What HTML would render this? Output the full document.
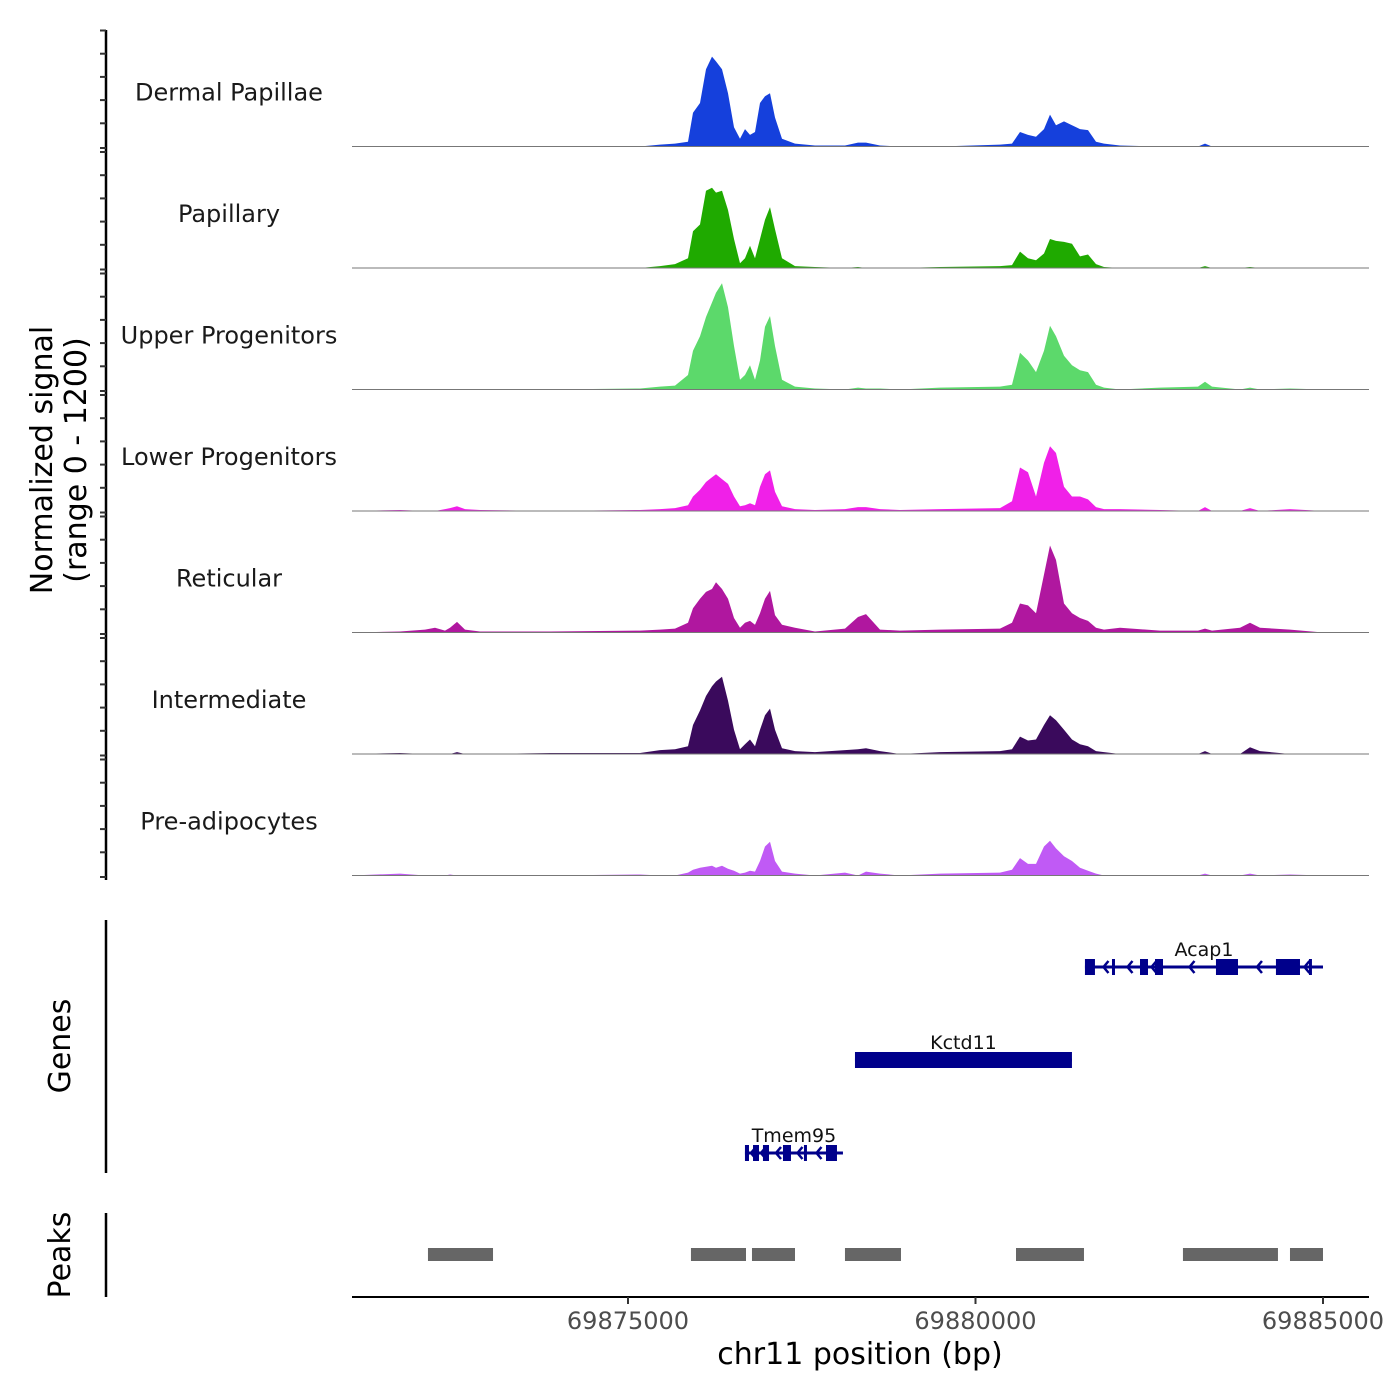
<!DOCTYPE html>
<html><head><meta charset="utf-8"><style>
body{margin:0;background:#fff;}
svg{display:block;font-family:"DejaVu Sans","Liberation Sans",sans-serif;}
</style></head><body>
<svg id="chart" width="1400" height="1400" viewBox="0 0 1400 1400">
<g id="tracks"></g>
<g id="genes"></g>
<g id="peaks"></g>
<g id="axes"></g>
</svg>
<script>
const positions=[69871029,69871719,69872079,69872223,69872367,69872439,69872540,69872655,69872871,69873878,69875173,69875460,69875676,69875863,69875935,69876036,69876122,69876209,69876266,69876352,69876439,69876525,69876611,69876683,69876755,69876827,69876899,69876971,69877043,69877115,69877216,69877403,69877691,69878122,69878309,69878424,69878626,69878913,69879489,69880352,69880525,69880640,69880755,69880870,69880986,69881072,69881158,69881273,69881389,69881504,69881619,69881734,69881849,69882079,69882655,69883201,69883302,69883403,69883806,69883950,69884094,69884525,69885000];
const trackNames=["Dermal Papillae","Papillary","Upper Progenitors","Lower Progenitors","Reticular","Intermediate","Pre-adipocytes"];
const trackColors=["#1540dc","#1faa00","#5cd96b","#f020e8","#b0179f","#3a0a5c","#c05af5"];
const dermalPapillae=[0,0,0,0,0,0,0,0,0,0,0,20,30,50,350,450,800,930,880,800,550,200,80,180,120,150,450,520,550,300,80,30,10,10,40,40,10,0,0,20,30,150,120,100,180,330,220,260,220,180,170,50,30,10,0,0,30,0,0,0,0,0,0];
const papillary=[0,0,0,0,0,0,0,0,0,0,0,20,40,100,380,450,800,830,780,800,600,300,50,100,230,100,300,500,630,400,100,20,10,0,10,0,0,0,10,20,30,170,100,80,150,300,280,270,250,120,140,40,10,0,0,0,20,0,0,10,0,0,0];
const upperProgenitors=[0,0,0,0,0,0,0,0,0,0,10,30,40,150,400,550,750,900,1000,1100,850,450,100,150,250,100,300,650,760,450,100,30,10,0,20,10,10,0,20,30,50,380,300,180,400,660,550,350,250,200,180,50,20,0,20,30,80,30,0,20,0,10,0];
const lowerProgenitors=[0,10,0,0,20,30,50,20,10,0,10,20,30,60,150,220,300,350,380,330,280,150,50,60,80,60,250,380,420,200,50,20,10,20,40,40,20,10,20,30,100,450,400,150,500,670,600,250,150,150,120,40,20,20,10,0,40,0,0,30,0,20,0];
const reticular=[0,10,30,50,20,50,110,30,10,10,20,30,40,100,250,350,420,450,520,450,350,150,50,100,120,80,200,350,430,180,80,50,10,40,160,190,30,20,30,40,100,300,280,200,600,900,750,300,200,150,120,50,30,50,20,20,40,20,50,100,50,30,0];
const intermediate=[0,10,0,0,0,0,20,0,0,10,10,40,50,80,300,450,600,700,750,800,550,250,50,100,150,80,250,400,470,250,60,30,20,40,50,60,30,0,20,30,50,180,140,150,300,400,350,250,150,100,80,30,20,0,0,0,30,0,0,70,30,0,0];
const preAdipocytes=[0,20,0,0,0,10,0,0,0,0,10,0,0,30,60,80,90,100,80,100,70,50,20,30,50,40,150,300,350,150,40,20,0,30,0,40,20,0,20,30,60,180,120,120,300,360,280,200,150,80,50,20,0,0,0,0,20,0,0,20,0,10,0];
const trackValues=[dermalPapillae,papillary,upperProgenitors,lowerProgenitors,reticular,intermediate,preAdipocytes];
const xTicks=[69875000,69880000,69885000];
const geneNames=["Acap1","Kctd11","Tmem95"];
const geneStarts=[69881575,69878266,69876683];
const geneEnds=[69885000,69881388,69878093];
const acap1Exons=[[69881575,69881719],[69881964,69882007],[69882367,69882482],[69882583,69882698],[69883460,69883777],[69884323,69884669],[69884798,69884841]];
const kctd11Exons=[[69878266,69881388]];
const tmem95Exons=[[69876683,69876741],[69876799,69876885],[69876942,69877029],[69877230,69877345],[69877532,69877575],[69877849,69878007]];
const geneExons=[acap1Exons,kctd11Exons,tmem95Exons];
const peakStarts=[69872122,69875906,69876784,69878122,69880583,69882985,69884525];
const peakEnds=[69873058,69876698,69877403,69878928,69881561,69884352,69885000];

const NS="http://www.w3.org/2000/svg";
function mk(tag,attrs,parent){const e=document.createElementNS(NS,tag);for(const k in attrs)e.setAttribute(k,attrs[k]);parent.appendChild(e);return e;}
const X0=352,X1=1369,BP0=69871029,BP1=69885662;
function xs(bp){return X0+(bp-BP0)*(X1-X0)/(BP1-BP0);}
const trackH=121.5, firstBase=146.5, scaleH=116;
function ys(v,base){return base-v/1200*scaleH;}

const tg=document.getElementById('tracks');
trackValues.forEach((vals,t)=>{
  const base=firstBase+t*trackH;
  let d="M"+xs(positions[0])+","+base;
  vals.forEach((v,i)=>{d+=" L"+xs(positions[i]).toFixed(1)+","+ys(v,base).toFixed(1);});
  d+=" L"+xs(positions[positions.length-1])+","+base+" Z";
  const p=mk('path',{d:d,fill:trackColors[t]},tg);
  
  
  const bl=mk('line',{x1:X0,x2:X1,y1:base,y2:base,stroke:'#777','stroke-width':1},tg);
  
  
  const lb=mk('text',{x:229,y:base-46,'text-anchor':'middle','font-size':24,fill:'#1a1a1a'},tg);
  lb.textContent=trackNames[t];
  
  
});

const gg=document.getElementById('genes');
const geneY=[967,1060,1153];
geneNames.forEach((n,g)=>{
  const y=geneY[g];
  const ln=mk('line',{x1:xs(geneStarts[g]),x2:xs(geneEnds[g]),y1:y,y2:y,stroke:'#00008b','stroke-width':3},gg);
  
  
  geneExons[g].forEach(ex=>{
    const r=mk('rect',{x:xs(ex[0]),y:y-8,width:Math.max(3,xs(ex[1])-xs(ex[0])),height:16,fill:'#00008b'},gg);
    
    
  });
  if(geneExons[g].length>1){
    for(let i=0;i<geneExons[g].length-1;i++){
      const mid=(xs(geneExons[g][i][1])+xs(geneExons[g][i+1][0]))/2;
      const a=mk('path',{d:`M${mid+5},${y-6} L${mid},${y} L${mid+5},${y+6}`,stroke:'#00008b','stroke-width':2.5,fill:'none'},gg);
      
      
    }
  }
  const t=mk('text',{x:(xs(geneStarts[g])+xs(geneEnds[g]))/2,y:y-11,'text-anchor':'middle','font-size':19,fill:'#111'},gg);
  t.textContent=n;
  
  
});

const pg=document.getElementById('peaks');
peakStarts.forEach((s,i)=>{
  const r=mk('rect',{x:xs(s),y:1248,width:xs(peakEnds[i])-xs(s),height:13,fill:'#666'},pg);
  
  
});

const ag=document.getElementById('axes');
let e=mk('line',{x1:X0,x2:X1,y1:1297,y2:1297,stroke:'#000','stroke-width':2},ag);

xTicks.forEach(v=>{
  const l=mk('line',{x1:xs(v),x2:xs(v),y1:1297,y2:1304,stroke:'#333','stroke-width':2},ag);
  
  
  const t=mk('text',{x:xs(v),y:1329,'text-anchor':'middle','font-size':24,fill:'#4d4d4d'},ag);
  t.textContent=v;
  
  
});
e=mk('text',{x:860,y:1364,'text-anchor':'middle','font-size':30,fill:'#000'},ag);e.textContent="chr11 position (bp)";

e=mk('line',{x1:106,x2:106,y1:30,y2:880,stroke:'#000','stroke-width':2.5},ag);

for(let t=0;t<7;t++){const base=firstBase+t*trackH;for(let k=0;k<=5;k++){
  const yy=base-k*scaleH/5+(k===0?1.5:0);
  const l=mk('line',{x1:100,x2:106,y1:yy,y2:yy,stroke:'#333','stroke-width':2},ag);
  
  
}}
e=mk('text',{transform:'translate(52,460) rotate(-90)','text-anchor':'middle','font-size':30,fill:'#000'},ag);e.textContent="Normalized signal";

e=mk('text',{transform:'translate(86,460) rotate(-90)','text-anchor':'middle','font-size':30,fill:'#000'},ag);e.textContent="(range 0 - 1200)";

e=mk('line',{x1:106,x2:106,y1:920,y2:1173,stroke:'#000','stroke-width':2.5},ag);

e=mk('text',{transform:'translate(70,1046) rotate(-90)','text-anchor':'middle','font-size':30,fill:'#000'},ag);e.textContent="Genes";

e=mk('line',{x1:106,x2:106,y1:1213,y2:1297,stroke:'#000','stroke-width':2.5},ag);

e=mk('text',{transform:'translate(70,1255) rotate(-90)','text-anchor':'middle','font-size':30,fill:'#000'},ag);e.textContent="Peaks";

</script>
</body></html>
